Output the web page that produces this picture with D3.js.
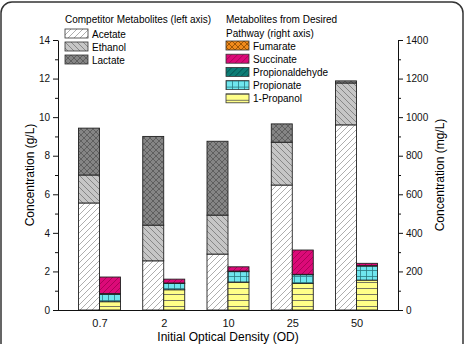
<!DOCTYPE html>
<html>
<head>
<meta charset="utf-8">
<script src="https://cdn.jsdelivr.net/npm/d3@7"></script>
<style>
  body { margin: 0; background: #fff; }
  svg { display: block; font-family: "Liberation Sans", Arial, sans-serif; }
</style>
</head>
<body>
<div id="chart"></div>
<script>
// data
const categories = ['0.7', '2', '10', '25', '50'];

// left axis, g/L
const acetate = [5.55, 2.55, 2.9, 6.48, 9.6];
const ethanol = [1.45, 1.85, 2.02, 2.22, 2.17];
const lactate = [2.43, 4.6, 3.83, 0.95, 0.11];

// right axis, mg/L
const propanol = [43, 105, 145, 138, 155];
const propionate = [39, 33, 54, 45, 73];
const propionaldehyde = [3, 2, 3, 2, 2];
const succinate = [86, 20, 22, 126, 12];
const fumarate = [0, 0, 0, 0, 0];

const leftTicks = [0, 2, 4, 6, 8, 10, 12, 14];
const rightTicks = [0, 200, 400, 600, 800, 1000, 1200, 1400];

const width = 465, height = 344;
const x0 = 58, x1 = 398, yBottom = 310, yTop = 40;
const barW = 21;

const svg = d3.select('#chart').append('svg')
    .attr('width', width)
    .attr('height', height);

// frame
svg.append('rect')
    .attr('x', 1).attr('y', 2)
    .attr('width', width - 3).attr('height', height + 10)
    .attr('rx', 11)
    .attr('fill', 'none')
    .attr('stroke', '#333')
    .attr('stroke-width', 1.5);

// patterns
const defs = svg.append('defs');
function hatch(id, bg, lines, stroke, size) {
    const p = defs.append('pattern')
        .attr('id', id)
        .attr('patternUnits', 'userSpaceOnUse')
        .attr('width', size).attr('height', size);
    p.append('rect').attr('width', size).attr('height', size).attr('fill', bg);
    lines.forEach(d => {
        p.append('path').attr('d', d)
            .attr('stroke', stroke).attr('stroke-width', 0.8).attr('fill', 'none');
    });
}
const fwd = 'M0,6 L6,0 M-1,1 L1,-1 M5,7 L7,5';
const back = 'M0,0 L6,6 M-1,5 L1,7 M5,-1 L7,1';
hatch('p-acetate', '#fff', [fwd], '#999', 6);
hatch('p-ethanol', '#c6c6c6', [back], '#777', 6);
hatch('p-lactate', '#858585', [fwd, back], '#555', 6);
hatch('p-fumarate', '#f08a1c', [fwd, back], '#8a4a00', 6);
hatch('p-succinate', '#dc0a78', [fwd], '#a00050', 6);
hatch('p-aldehyde', '#0d7d75', [fwd], '#044', 6);
hatch('p-propionate', '#6fe6ee', ['M0,0.5 L6,0.5', 'M0.5,0 L0.5,6'], '#2a7a80', 6);
hatch('p-propanol', '#ffff88', ['M0,0.5 L6,0.5'], '#555', 6);

// scales
const x = d3.scalePoint()
    .domain(categories)
    .range([x0, x1])
    .padding(0.645);

const yL = d3.scaleLinear().domain([0, 14]).range([yBottom, yTop]);
const yR = d3.scaleLinear().domain([0, 1400]).range([yBottom, yTop]);

const leftSeries = [
    { name: 'Acetate', values: acetate, fill: 'url(#p-acetate)' },
    { name: 'Ethanol', values: ethanol, fill: 'url(#p-ethanol)' },
    { name: 'Lactate', values: lactate, fill: 'url(#p-lactate)' }
];
const rightSeries = [
    { name: '1-Propanol', values: propanol, fill: 'url(#p-propanol)' },
    { name: 'Propionate', values: propionate, fill: 'url(#p-propionate)' },
    { name: 'Propionaldehyde', values: propionaldehyde, fill: 'url(#p-aldehyde)' },
    { name: 'Succinate', values: succinate, fill: 'url(#p-succinate)' },
    { name: 'Fumarate', values: fumarate, fill: 'url(#p-fumarate)' }
];

function drawStack(series, y, offset) {
    const rows = categories.map((c, i) => {
        const r = { cat: c };
        series.forEach(s => r[s.name] = s.values[i]);
        return r;
    });
    const stack = d3.stack().keys(series.map(s => s.name))(rows);
    stack.forEach((layer, k) => {
        svg.append('g').selectAll('rect')
            .data(layer)
            .enter().append('rect')
            .attr('x', d => x(d.data.cat) + offset)
            .attr('width', barW)
            .attr('y', d => y(d[1]))
            .attr('height', d => y(d[0]) - y(d[1]))
            .attr('fill', series[k].fill)
            .attr('stroke', '#222')
            .attr('stroke-width', 0.9);
    });
}
drawStack(leftSeries, yL, -barW);
drawStack(rightSeries, yR, 0);

// axes
svg.append('g')
    .attr('transform', `translate(${x0},0)`)
    .call(d3.axisLeft(yL).tickValues(leftTicks).tickSize(5).tickSizeOuter(0));
svg.append('g')
    .attr('transform', `translate(${x0},0)`)
    .call(d3.axisLeft(yL).tickValues(d3.range(1, 14, 2)).tickSize(3).tickFormat(''))
    .select('.domain').remove();

svg.append('g')
    .attr('transform', `translate(${x1},0)`)
    .call(d3.axisRight(yR).tickValues(rightTicks).tickFormat(d3.format('d')).tickSize(5).tickSizeOuter(0));
svg.append('g')
    .attr('transform', `translate(${x1},0)`)
    .call(d3.axisRight(yR).tickValues(d3.range(100, 1400, 200)).tickSize(3).tickFormat(''))
    .select('.domain').remove();

const bottomAxis = svg.append('g')
    .attr('transform', `translate(0,${yBottom})`)
    .call(d3.axisBottom(x).tickSize(0).tickPadding(9));
bottomAxis.select('.domain').attr('d', `M${x0},0.5H${x1}`);

svg.selectAll('.tick text').style('font-size', '10px').attr('fill', '#111');
bottomAxis.selectAll('.tick text').style('font-size', '11px');
svg.selectAll('.domain, .tick line').attr('stroke', '#111');

// axis titles
svg.append('text')
    .attr('transform', `translate(34,175) rotate(-90)`)
    .attr('text-anchor', 'middle')
    .style('font-size', '12px')
    .text('Concentration (g/L)');

svg.append('text')
    .attr('transform', `translate(444,175) rotate(-90)`)
    .attr('text-anchor', 'middle')
    .style('font-size', '12px')
    .text('Concentration (mg/L)');

svg.append('text')
    .attr('x', 228).attr('y', 341)
    .attr('text-anchor', 'middle')
    .style('font-size', '12px')
    .text('Initial Optical Density (OD)');

// legends
function legend(items, lx, ly, dy) {
    items.forEach((s, i) => {
        const g = svg.append('g').attr('transform', `translate(${lx},${ly + i * dy})`);
        g.append('rect')
            .attr('width', 23).attr('height', 9)
            .attr('fill', s.fill)
            .attr('stroke', '#333').attr('stroke-width', 0.8);
        g.append('text')
            .attr('x', 27).attr('y', 8.5)
            .style('font-size', '10px')
            .text(s.name);
    });
}

svg.append('text').attr('x', 65).attr('y', 23)
    .style('font-size', '10px').text('Competitor Metabolites (left axis)');
legend(leftSeries, 65, 29, 13);

svg.append('text').attr('x', 226).attr('y', 23)
    .style('font-size', '10px').text('Metabolites from Desired');
svg.append('text').attr('x', 226).attr('y', 37)
    .style('font-size', '10px').text('Pathway (right axis)');
legend(rightSeries.slice().reverse(), 226, 41, 13.2);
</script>
</body>
</html>
